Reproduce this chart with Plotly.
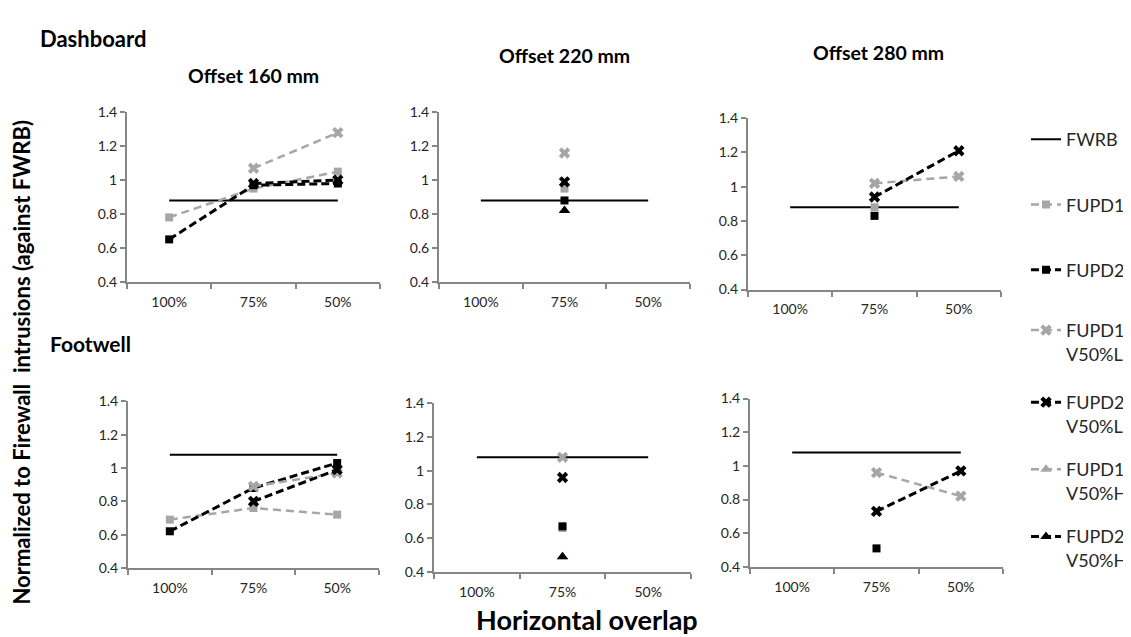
import plotly.graph_objects as go

W, H = 1131, 637

categories = ["100%", "75%", "50%"]

# Dashboard values (offset 160, 220, 280 mm)
dash_fwrb = [0.88, 0.88, 0.88]
dash_160 = {
    "FUPD1": [0.78, 0.95, 1.05],
    "FUPD2": [0.65, 0.97, 0.98],
    "FUPD1 V50%L": [None, 1.07, 1.28],
    "FUPD2 V50%L": [None, 0.98, 1.00],
    "FUPD1 V50%H": [None, None, None],
    "FUPD2 V50%H": [None, None, None],
}
dash_220 = {
    "FUPD1": [None, 0.95, None],
    "FUPD2": [None, 0.88, None],
    "FUPD1 V50%L": [None, 1.16, None],
    "FUPD2 V50%L": [None, 0.99, None],
    "FUPD1 V50%H": [None, 0.82, None],
    "FUPD2 V50%H": [None, 0.82, None],
}
dash_280 = {
    "FUPD1": [None, 0.88, None],
    "FUPD2": [None, 0.83, None],
    "FUPD1 V50%L": [None, 1.02, 1.06],
    "FUPD2 V50%L": [None, 0.94, 1.21],
    "FUPD1 V50%H": [None, None, None],
    "FUPD2 V50%H": [None, None, None],
}

# Footwell values
foot_fwrb = [1.08, 1.08, 1.08]
foot_160 = {
    "FUPD1": [0.69, 0.76, 0.72],
    "FUPD2": [0.62, 0.88, 1.03],
    "FUPD1 V50%L": [None, 0.89, 0.97],
    "FUPD2 V50%L": [None, 0.80, 0.99],
    "FUPD1 V50%H": [None, None, None],
    "FUPD2 V50%H": [None, None, None],
}
foot_220 = {
    "FUPD1": [None, 0.66, None],
    "FUPD2": [None, 0.67, None],
    "FUPD1 V50%L": [None, 1.08, None],
    "FUPD2 V50%L": [None, 0.96, None],
    "FUPD1 V50%H": [None, 0.49, None],
    "FUPD2 V50%H": [None, 0.49, None],
}
foot_280 = {
    "FUPD1": [None, None, None],
    "FUPD2": [None, 0.51, None],
    "FUPD1 V50%L": [None, 0.96, 0.82],
    "FUPD2 V50%L": [None, 0.73, 0.97],
    "FUPD1 V50%H": [None, None, None],
    "FUPD2 V50%H": [None, None, None],
}

y_ticks = [0.4, 0.6, 0.8, 1.0, 1.2, 1.4]
y_tick_text = ["0.4", "0.6", "0.8", "1", "1.2", "1.4"]

GRAY = "#A6A6A6"
BLACK = "#000000"
AXIS = "#868686"
FONT = "Lato"

styles = {
    "FUPD1": dict(color=GRAY, symbol="square", size=8, dash="8px,5px", width=2.5),
    "FUPD2": dict(color=BLACK, symbol="square", size=8, dash="8px,4px", width=3),
    "FUPD1 V50%L": dict(color=GRAY, symbol="x", size=10, dash="8px,5px", width=2.5),
    "FUPD2 V50%L": dict(color=BLACK, symbol="x", size=10, dash="8px,4px", width=3),
    "FUPD1 V50%H": dict(color=GRAY, symbol="triangle-up", size=10, dash="8px,5px", width=2.5),
    "FUPD2 V50%H": dict(color=BLACK, symbol="triangle-up", size=10, dash="8px,4px", width=3),
}
legend_names = {
    "FWRB": "FWRB",
    "FUPD1": "FUPD1",
    "FUPD2": "FUPD2",
    "FUPD1 V50%L": "FUPD1<br>V50%L",
    "FUPD2 V50%L": "FUPD2<br>V50%L",
    "FUPD1 V50%H": "FUPD1<br>V50%H",
    "FUPD2 V50%H": "FUPD2<br>V50%H",
}
legend_y_px = {
    "FWRB": 120, "FUPD1": 187, "FUPD2": 254,
    "FUPD1 V50%L": 316, "FUPD2 V50%L": 390,
    "FUPD1 V50%H": 459, "FUPD2 V50%H": 528,
}
legend_ids = {k: ("legend" if i == 0 else f"legend{i+1}") for i, k in enumerate(legend_y_px)}

# panel pixel boxes: (x0, x1, ytop, ybottom)
panels = [
    ((119, 372, 98, 272), dash_fwrb, dash_160),
    ((431, 682, 98, 272), dash_fwrb, dash_220),
    ((740, 993, 104, 280), dash_fwrb, dash_280),
    ((120, 371, 395, 566), foot_fwrb, foot_160),
    ((426, 683, 397, 570), foot_fwrb, foot_220),
    ((742, 995, 392, 565), foot_fwrb, foot_280),
]

fig = go.Figure()
layout = dict(
    width=W, height=H, autosize=False,
    margin=dict(l=0, r=0, t=0, b=0),
    paper_bgcolor="white", plot_bgcolor="white",
    font=dict(family=FONT, color="#262626"),
    showlegend=True,
)

for i, (box, fwrb, series) in enumerate(panels):
    n = "" if i == 0 else str(i + 1)
    xa, ya = "x" + n, "y" + n
    x0, x1, yt, yb = box
    layout["xaxis" + n] = dict(
        domain=[x0 / W, x1 / W], anchor=ya, type="category",
        categoryorder="array", categoryarray=categories,
        range=[-0.5, 2.5], tickson="boundaries", ticks="outside", ticklen=5,
        tickcolor=AXIS, tickwidth=1.5, showline=True, linecolor=AXIS, linewidth=2,
        showgrid=False, zeroline=False, fixedrange=True, ticklabelstandoff=6,
        tickfont=dict(family=FONT, size=14, color="#262626"),
    )
    layout["yaxis" + n] = dict(
        domain=[1 - yb / H, 1 - yt / H], anchor=xa, range=[0.4, 1.4],
        tickvals=y_ticks, ticktext=y_tick_text, ticks="outside", ticklen=5,
        tickcolor=AXIS, tickwidth=1.5, showline=True, linecolor=AXIS, linewidth=2,
        showgrid=False, zeroline=False, fixedrange=True,
        tickfont=dict(family=FONT, size=14, color="#262626"),
    )
    fig.add_trace(go.Scatter(
        x=categories, y=fwrb, xaxis=xa, yaxis=ya, mode="lines",
        line=dict(color=BLACK, width=2), name=legend_names["FWRB"],
        legend=legend_ids["FWRB"], showlegend=(i == 0), cliponaxis=False,
    ))
    for key, vals in series.items():
        st = styles[key]
        fig.add_trace(go.Scatter(
            x=categories, y=vals, xaxis=xa, yaxis=ya, mode="lines+markers",
            line=dict(color=st["color"], width=st["width"], dash=st["dash"]),
            marker=dict(color=st["color"], symbol=st["symbol"], size=st["size"],
                        line=dict(width=0)),
            name=legend_names[key], legend=legend_ids[key],
            showlegend=(i == 0), connectgaps=False, cliponaxis=False,
        ))

for key, lid in legend_ids.items():
    layout[lid] = dict(
        x=1018 / W, xanchor="left", y=1 - (legend_y_px[key] - 13) / H, yanchor="top",
        bgcolor="rgba(0,0,0,0)", borderwidth=0, valign="top",
        font=dict(family=FONT, size=18, color="#262626"), itemwidth=30,
        tracegroupgap=0,
    )

annotations = [
    dict(text="<b>Dashboard</b>", x=30 / W, y=1 - 22 / H, xanchor="left", yanchor="middle", font=dict(size=22)),
    dict(text="<b>Footwell</b>", x=40 / W, y=1 - 335 / H, xanchor="left", yanchor="middle", font=dict(size=21)),
    dict(text="<b>Offset 160 mm</b>", x=245 / W, y=1 - 60 / H, xanchor="center", yanchor="middle", font=dict(size=19.5)),
    dict(text="<b>Offset 220 mm</b>", x=556 / W, y=1 - 40 / H, xanchor="center", yanchor="middle", font=dict(size=19.5)),
    dict(text="<b>Offset 280 mm</b>", x=870 / W, y=1 - 36 / H, xanchor="center", yanchor="middle", font=dict(size=19.5)),
    dict(text="<b>Normalized to Firewall  intrusions (against FWRB)</b>", x=14 / W, y=1 - 355 / H,
         xanchor="center", yanchor="middle", textangle=-90, font=dict(size=22)),
    dict(text="<b>Horizontal overlap</b>", x=579 / W, y=1 - 619 / H, xanchor="center", yanchor="middle", font=dict(size=27)),
]
for a in annotations:
    a.update(xref="paper", yref="paper", showarrow=False)
    a["font"].update(family=FONT, color="#000000")
layout["annotations"] = annotations

fig.update_layout(**layout)
fig.write_html("out.html")
